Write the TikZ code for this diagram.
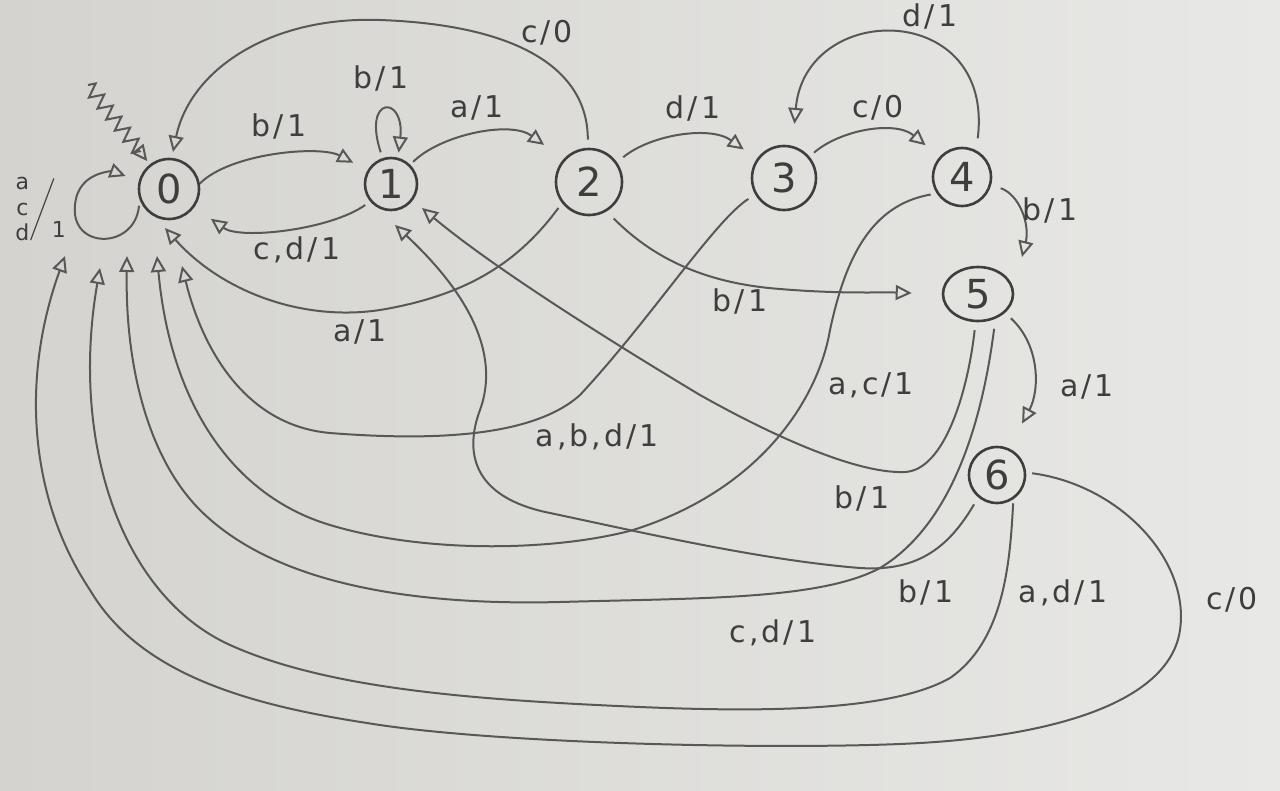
\documentclass[tikz,border=0pt]{standalone}
\usepackage{amsmath}
\usepackage{fontspec}
\usepackage{graphicx}
\setmainfont{DejaVu Sans}
\newfontfamily\hand[LetterSpace=10]{DejaVu Sans}
\usetikzlibrary{arrows.meta,decorations.pathmorphing,shapes.geometric}
\definecolor{paperL}{RGB}{212,211,207}
\definecolor{paperR}{RGB}{232,232,230}
\definecolor{pencil}{RGB}{88,88,88}
\definecolor{graphite}{RGB}{62,62,62}
\tikzset{
  state/.style={circle, draw=graphite, line width=2.6pt, inner sep=0pt,
    font=\hand\fontsize{40}{40}\selectfont, text=graphite},
  edge/.style={draw=pencil, line width=2pt,
    -{Triangle[open,length=16pt,width=15pt]}},
  lbl/.style={font=\hand\fontsize{30}{32}\selectfont, text=graphite, inner sep=0pt},
  squiggle/.style={decorate, decoration={zigzag, segment length=14pt,
    amplitude=7pt, post length=16pt}}
}
\begin{document}
\begin{tikzpicture}[x=1pt,y=-1pt]
\shade[left color=paperL, right color=paperR] (0,0) rectangle (1280,790);
\useasboundingbox (0,0) rectangle (1280,790);

% states
\node[state, minimum size=60pt] (q0) at (169,189) {0};
\node[state, minimum size=52pt] (q1) at (391,184) {1};
\node[state, minimum size=66pt] (q2) at (589,182) {2};
\node[state, minimum size=64pt] (q3) at (784,178) {3};
\node[state, minimum size=58pt] (q4) at (962,177) {4};
\node[state, ellipse, minimum width=70pt, minimum height=54pt] (q5) at (978,294) {5};
\node[state, minimum size=56pt] (q6) at (997,475) {6};

% free ends of arrows
\coordinate (init) at (88,85);
\coordinate (t20) at ([shift={(-4,39)}]q0.center);
\coordinate (t30) at ([shift={(13,77)}]q0.center);
\coordinate (t40) at ([shift={(-12,67)}]q0.center);
\coordinate (t50) at ([shift={(-42,67)}]q0.center);
\coordinate (t60a) at ([shift={(-69,79)}]q0.center);
\coordinate (t60c) at ([shift={(-104,67)}]q0.center);
\coordinate (t51) at ([shift={(31,24)}]q1.center);
\coordinate (t61) at ([shift={(4,41)}]q1.center);
\coordinate (t45) at ([shift={(44,-37)}]q5.center);

% initial arrow
\draw[edge, squiggle, shorten >=4pt] (init) -- (q0);

% self loop on 0
\draw[edge, shorten <=6pt, shorten >=14pt] (q0.200) .. controls (135,250) and (70,250) .. (75,205)
  .. controls (78,170) and (115,172) .. (q0.165);
% 0 -> 1
\draw[edge, shorten >=16pt] (q0.10) .. controls (230,153) and (320,145) .. (q1.150);
% 1 -> 0
\draw[edge, shorten <=6pt, shorten >=20pt] (q1.220) .. controls (330,230) and (240,240) .. (q0.-35);
% self loop on 1
\draw[edge, shorten <=6pt, shorten >=5pt] (q1.108) .. controls (362,95) and (405,95) .. (q1.75);
% 1 -> 2
\draw[edge, shorten <=4pt, shorten >=24pt] (q1.45) .. controls (440,135) and (510,120) .. (q2.138);
% 2 -> 0 (c/0)
\draw[edge, shorten <=8pt, shorten >=6pt] (q2.92) .. controls (588,70) and (520,25) .. (380,20)
  .. controls (270,16) and (190,70) .. (q0.85);
% 2 -> 3
\draw[edge, shorten <=8pt, shorten >=16pt] (q2.35) .. controls (650,135) and (710,125) .. (q3.145);
% 3 -> 4
\draw[edge, shorten <=6pt, shorten >=18pt] (q3.40) .. controls (840,130) and (895,120) .. (q4.138);
% 4 -> 3
\draw[edge, shorten <=12pt, shorten >=22pt] (q4.62) .. controls (995,0) and (805,0) .. (q3.75);
% 4 -> 5
\draw[edge, shorten <=10pt] (q4.-15) .. controls (1020,195) and (1030,225) .. (t45);
% 5 -> 6
\draw[edge, shorten <=8pt, shorten >=28pt] (q5.-35) .. controls (1040,345) and (1040,390) .. (q6.66);
% 2 -> 5
\draw[edge, shorten <=10pt, shorten >=30pt] (q2.-59) .. controls (650,255) and (700,283) .. (780,289)
  .. controls (840,294) and (880,292) .. (q5.180);
% 2 -> 0 (a/1)
\draw[edge, shorten <=6pt] (q2.218) .. controls (520,260) and (470,295) .. (380,310)
  .. controls (300,322) and (220,290) .. (t20);
% 3 -> 0
\draw[edge, shorten <=8pt] (q3.210) .. controls (715,220) and (650,320) .. (580,395)
  .. controls (530,440) and (420,440) .. (330,433)
  .. controls (240,425) and (200,340) .. (t30);
% 4 -> 0
\draw[edge, shorten <=6pt] (q4.213) .. controls (870,205) and (845,260) .. (830,330)
  .. controls (818,400) and (760,490) .. (633,530)
  .. controls (560,550) and (430,555) .. (330,525)
  .. controls (230,495) and (170,400) .. (t40);
% 5 -> 0
\draw[edge, shorten <=10pt] (q5.-55) .. controls (985,400) and (960,520) .. (880,568)
  .. controls (820,600) and (700,598) .. (560,602)
  .. controls (400,606) and (270,580) .. (200,510)
  .. controls (150,460) and (125,370) .. (t50);
% 6 -> 0 (a,d/1)
\draw[edge, shorten <=4pt] (q6.-56) .. controls (1010,560) and (1005,640) .. (950,678)
  .. controls (890,712) and (760,712) .. (640,707)
  .. controls (480,700) and (330,690) .. (230,645)
  .. controls (120,595) and (70,440) .. (t60a);
% 6 -> 0 (c/0)
\draw[edge, shorten <=6pt] (q6.5) .. controls (1120,485) and (1190,560) .. (1180,630)
  .. controls (1170,700) and (1060,735) .. (920,743)
  .. controls (800,750) and (500,745) .. (367,723)
  .. controls (250,705) and (140,675) .. (90,590)
  .. controls (30,500) and (20,380) .. (t60c);
% 5 -> 1
\draw[edge, shorten <=8pt] (q5.-95) .. controls (968,390) and (945,470) .. (905,472)
  .. controls (860,474) and (780,440) .. (700,395)
  .. controls (600,335) and (490,265) .. (t51);
% 6 -> 1
\draw[edge, shorten <=8pt] (q6.-130) .. controls (950,545) and (920,572) .. (860,568)
  .. controls (760,560) and (640,532) .. (550,513)
  .. controls (470,497) and (465,450) .. (480,410)
  .. controls (500,355) and (470,295) .. (t61);

% labels
\node[lbl, font=\hand\fontsize{22}{24}\selectfont] (l00) at (40,210) {$\left.\renewcommand\arraystretch{1.05}\begin{array}{@{}c@{}}\text{a}\\\text{c}\\\text{d}\end{array}\right/$\hspace{-4pt}\raisebox{-22pt}{1}};
\node[lbl] (l01) at (279,126) {b/1};
\node[lbl] (l10) at (297,250) {c,d/1};
\node[lbl] (l11) at (381,78) {b/1};
\node[lbl] (l12) at (477,108) {a/1};
\node[lbl] (l20c) at (547,33) {c/0};
\node[lbl] (l23) at (693,108) {d/1};
\node[lbl] (l34) at (878,108) {c/0};
\node[lbl] (l43) at (930,16) {d/1};
\node[lbl] (l45) at (1050,210) {b/1};
\node[lbl] (l56) at (1087,387) {a/1};
\node[lbl] (l25) at (740,301) {b/1};
\node[lbl] (l20a) at (360,332) {a/1};
\node[lbl] (l30) at (597,437) {a,b,d/1};
\node[lbl] (l40) at (871,385) {a,c/1};
\node[lbl] (l50) at (773,633) {c,d/1};
\node[lbl] (l60a) at (1063,593) {a,d/1};
\node[lbl] (l60c) at (1232,600) {c/0};
\node[lbl] (l51) at (862,498) {b/1};
\node[lbl] (l61) at (926,592) {b/1};
\end{tikzpicture}
\end{document}
